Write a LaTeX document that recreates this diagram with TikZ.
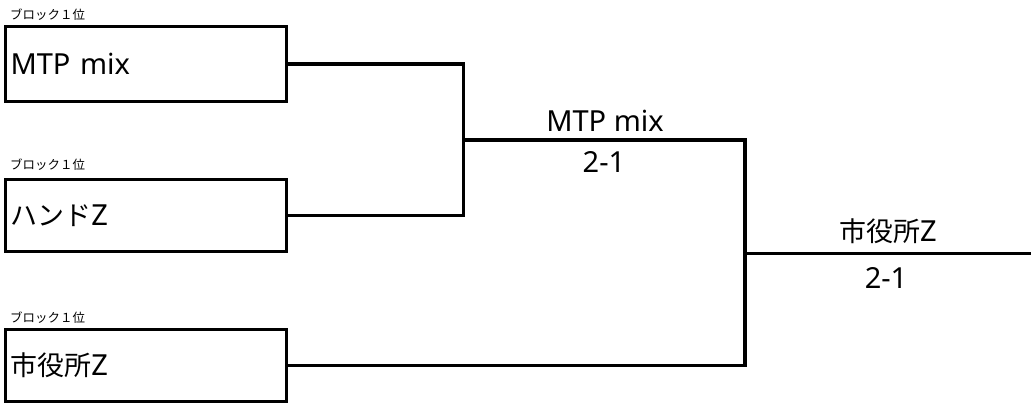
\documentclass[tikz,border=0pt]{standalone}
\usepackage{fontspec}
\setmainfont{Noto Sans}
\newfontfamily\jp{Noto Sans CJK JP}[Scale=0.93]
\begin{document}
\begin{tikzpicture}[x=1pt,y=-1pt,
  teambox/.style={draw=black,line width=3.2pt,minimum width=281pt,inner xsep=5pt,
    text width=271pt,align=left,font=\fontsize{29}{34}\selectfont,anchor=center},
  blocklabel/.style={anchor=west,inner sep=0pt,font=\jp\fontsize{13.4}{15}\selectfont},
  result/.style={inner sep=0pt,font=\fontsize{29}{34}\selectfont},
  wire/.style={line width=3.2pt}]
\useasboundingbox (0,0) rectangle (1031,410);
\node[teambox,minimum height=75pt] (b1) at (146,64) {MTP mix};
\node[teambox,minimum height=72pt] (b2) at (146,215.5) {{\jp ハンド}Z};
\node[teambox,minimum height=72pt] (b3) at (146,365.5) {{\jp 市役所}Z};
\node[blocklabel] (l1) at (10,15) {ブロック１位};
\node[blocklabel] (l2) at (10,165) {ブロック１位};
\node[blocklabel] (l3) at (10,318) {ブロック１位};
\coordinate (m1) at (463.5,140);
\coordinate (m2) at (745,253.5);
\coordinate (fin) at (1031,253.5);
\draw[wire] (b1.east) -| (m1) |- (b2.east);
\draw[wire] (m1) -| (m2) |- (b3.east);
\draw[wire] (m2) -- (fin);
\node[result] (w1) at (605,121) {MTP mix};
\node[result] (s1) at (604,162) {2-1};
\node[result] (w2) at (888,231) {{\jp 市役所}Z};
\node[result] (s2) at (886,278) {2-1};
\end{tikzpicture}
\end{document}
